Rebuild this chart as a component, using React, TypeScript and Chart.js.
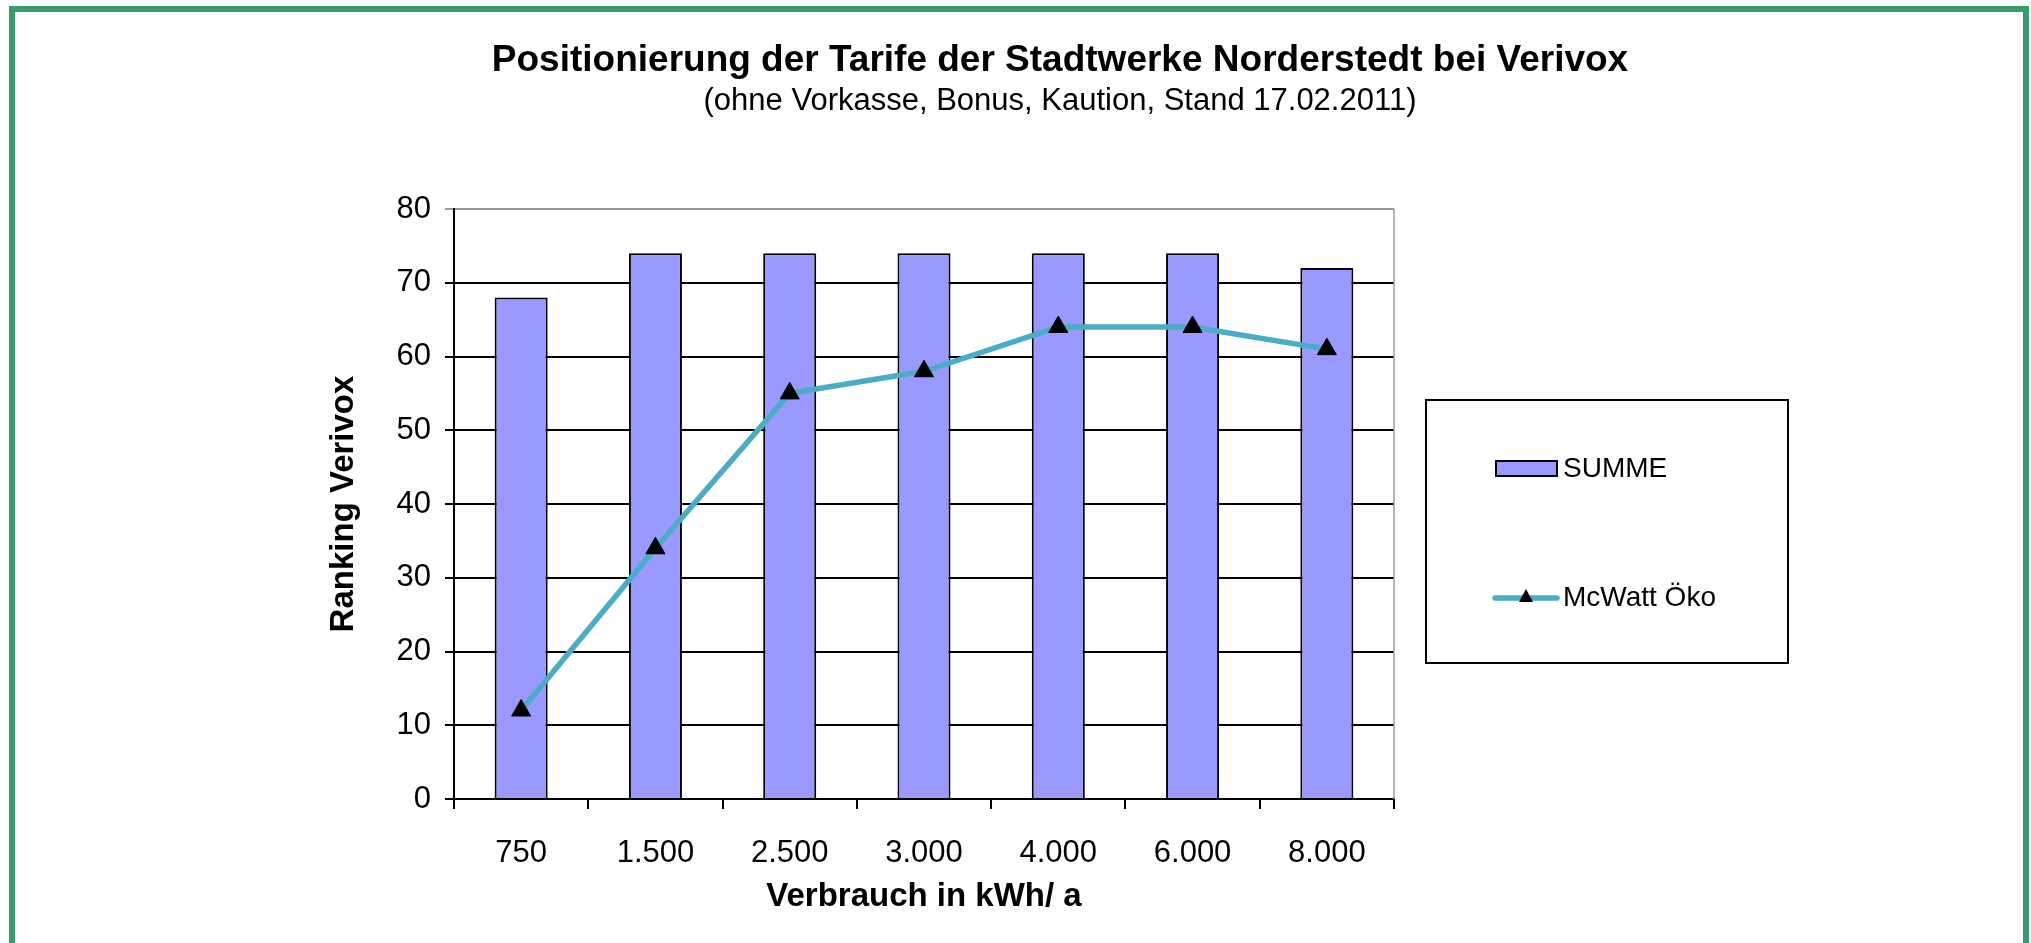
import React, { useEffect, useRef } from "react";
import { Chart, registerables } from "chart.js";

Chart.register(...registerables);

const categories = ["750", "1.500", "2.500", "3.000", "4.000", "6.000", "8.000"];
const summeValues = [68, 74, 74, 74, 74, 74, 72];
const mcwattValues = [12, 34, 55, 58, 64, 64, 61];
const yTicks = [0, 10, 20, 30, 40, 50, 60, 70, 80];
const titleText = "Positionierung der Tarife der Stadtwerke Norderstedt bei Verivox";
const subtitleText = "(ohne Vorkasse, Bonus, Kaution, Stand 17.02.2011)";

const FONT = "'Liberation Sans', Arial, sans-serif";
const BAR_COLOR = "#9999ff";
const LINE_COLOR = "#4bacc6";
const GREEN = "#3a9b6b";

const framePlugin = {
  id: "frame",
  beforeDraw(chart: any) {
    const { ctx, width, height } = chart;
    ctx.save();
    ctx.fillStyle = "#ffffff";
    ctx.fillRect(0, 0, width, height);
    ctx.strokeStyle = GREEN;
    ctx.lineWidth = 6;
    ctx.strokeRect(12, 9, 2026 - 12, height + 20);

    // titles
    ctx.fillStyle = "#000";
    ctx.textAlign = "center";
    ctx.textBaseline = "middle";
    ctx.font = `bold 37px ${FONT}`;
    ctx.fillText(titleText, 1060, 61);
    ctx.font = `31px ${FONT}`;
    ctx.fillText(subtitleText, 1060, 101);
    ctx.restore();
  },
  afterDraw(chart: any) {
    const { ctx, chartArea } = chart;
    ctx.save();
    // right edge of plot area (gray)
    ctx.strokeStyle = "#9a9a9a";
    ctx.lineWidth = 1.5;
    ctx.beginPath();
    ctx.moveTo(chartArea.right, chartArea.top);
    ctx.lineTo(chartArea.right, chartArea.bottom);
    ctx.stroke();

    // legend box
    const bx = 1426, by = 400, bw = 362, bh = 263;
    ctx.strokeStyle = "#000";
    ctx.lineWidth = 2;
    ctx.strokeRect(bx, by, bw, bh);

    const dsBar = chart.data.datasets.find((d: any) => d.type === "bar");
    const dsLine = chart.data.datasets.find((d: any) => d.type === "line");
    ctx.font = `28px ${FONT}`;
    ctx.textBaseline = "middle";
    ctx.textAlign = "left";

    // SUMME swatch
    ctx.fillStyle = BAR_COLOR;
    ctx.fillRect(1496, 461, 61, 15);
    ctx.strokeStyle = "#000";
    ctx.lineWidth = 2;
    ctx.strokeRect(1496, 461, 61, 15);
    ctx.fillStyle = "#000";
    ctx.fillText(dsBar.label, 1563, 469);

    // McWatt swatch
    ctx.strokeStyle = LINE_COLOR;
    ctx.lineWidth = 5.5;
    ctx.lineCap = "round";
    ctx.beginPath();
    ctx.moveTo(1495, 598);
    ctx.lineTo(1557, 598);
    ctx.stroke();
    ctx.fillStyle = "#000";
    ctx.beginPath();
    ctx.moveTo(1526, 589);
    ctx.lineTo(1533, 602);
    ctx.lineTo(1519, 602);
    ctx.closePath();
    ctx.fill();
    ctx.fillText(dsLine.label, 1563, 598);
    ctx.restore();
  },
};

export default function App() {
  const ref = useRef<HTMLCanvasElement | null>(null);

  useEffect(() => {
    document.body.style.margin = "0";
    const canvas = ref.current;
    if (!canvas) return;
    const chart = new Chart(canvas, {
      type: "bar",
      data: {
        labels: categories,
        datasets: [
          {
            type: "line",
            label: "McWatt Öko",
            data: mcwattValues,
            borderColor: LINE_COLOR,
            borderWidth: 5.5,
            pointStyle: "triangle",
            pointRadius: 11,
            pointBackgroundColor: "#000",
            pointBorderColor: "#000",
            pointBorderWidth: 1,
            tension: 0,
            order: 0,
          } as any,
          {
            type: "bar",
            label: "SUMME",
            data: summeValues,
            backgroundColor: BAR_COLOR,
            borderColor: "#000",
            borderWidth: 2,
            barPercentage: 0.395,
            categoryPercentage: 1,
            order: 1,
          } as any,
        ],
      },
      options: {
        animation: false,
        responsive: false,
        maintainAspectRatio: false,
        layout: { padding: { left: 324, right: 637, top: 209, bottom: 26 } },
        plugins: {
          legend: { display: false },
          tooltip: { enabled: false },
          title: { display: false },
        },
        scales: {
          x: {
            grid: {
              offset: true,
              drawOnChartArea: false,
              drawTicks: true,
              tickLength: 10,
              color: "#000",
              lineWidth: 2,
            },
            border: { color: "#000", width: 2 },
            ticks: {
              color: "#000",
              font: { family: FONT, size: 31 },
              padding: 26,
              maxRotation: 0,
            },
            title: {
              display: true,
              text: "Verbrauch in kWh/ a",
              color: "#000",
              font: { family: FONT, size: 33, weight: "bold" },
              padding: 0,
            },
            afterFit: (s: any) => {
              s.height = 118;
            },
          },
          y: {
            min: 0,
            max: 80,
            afterBuildTicks: (s: any) => {
              s.ticks = yTicks.map((v) => ({ value: v }));
            },
            grid: {
              color: (c: any) => (c.tick && c.tick.value === 80 ? "#9a9a9a" : "#000"),
              lineWidth: 2,
              drawTicks: true,
              tickLength: 9,
            },
            border: { color: "#000", width: 2 },
            ticks: {
              color: "#000",
              font: { family: FONT, size: 31 },
              padding: 14,
            },
            title: {
              display: true,
              text: "Ranking Verivox",
              color: "#000",
              font: { family: FONT, size: 33, weight: "bold" },
              padding: 0,
            },
            afterFit: (s: any) => {
              s.width = 130;
            },
          },
        },
      },
      plugins: [framePlugin],
    });
    return () => chart.destroy();
  }, []);

  return (
    <div style={{ width: 2031, height: 943 }}>
      <canvas ref={ref} width={2031} height={943} style={{ display: "block", width: 2031, height: 943 }} />
    </div>
  );
}
